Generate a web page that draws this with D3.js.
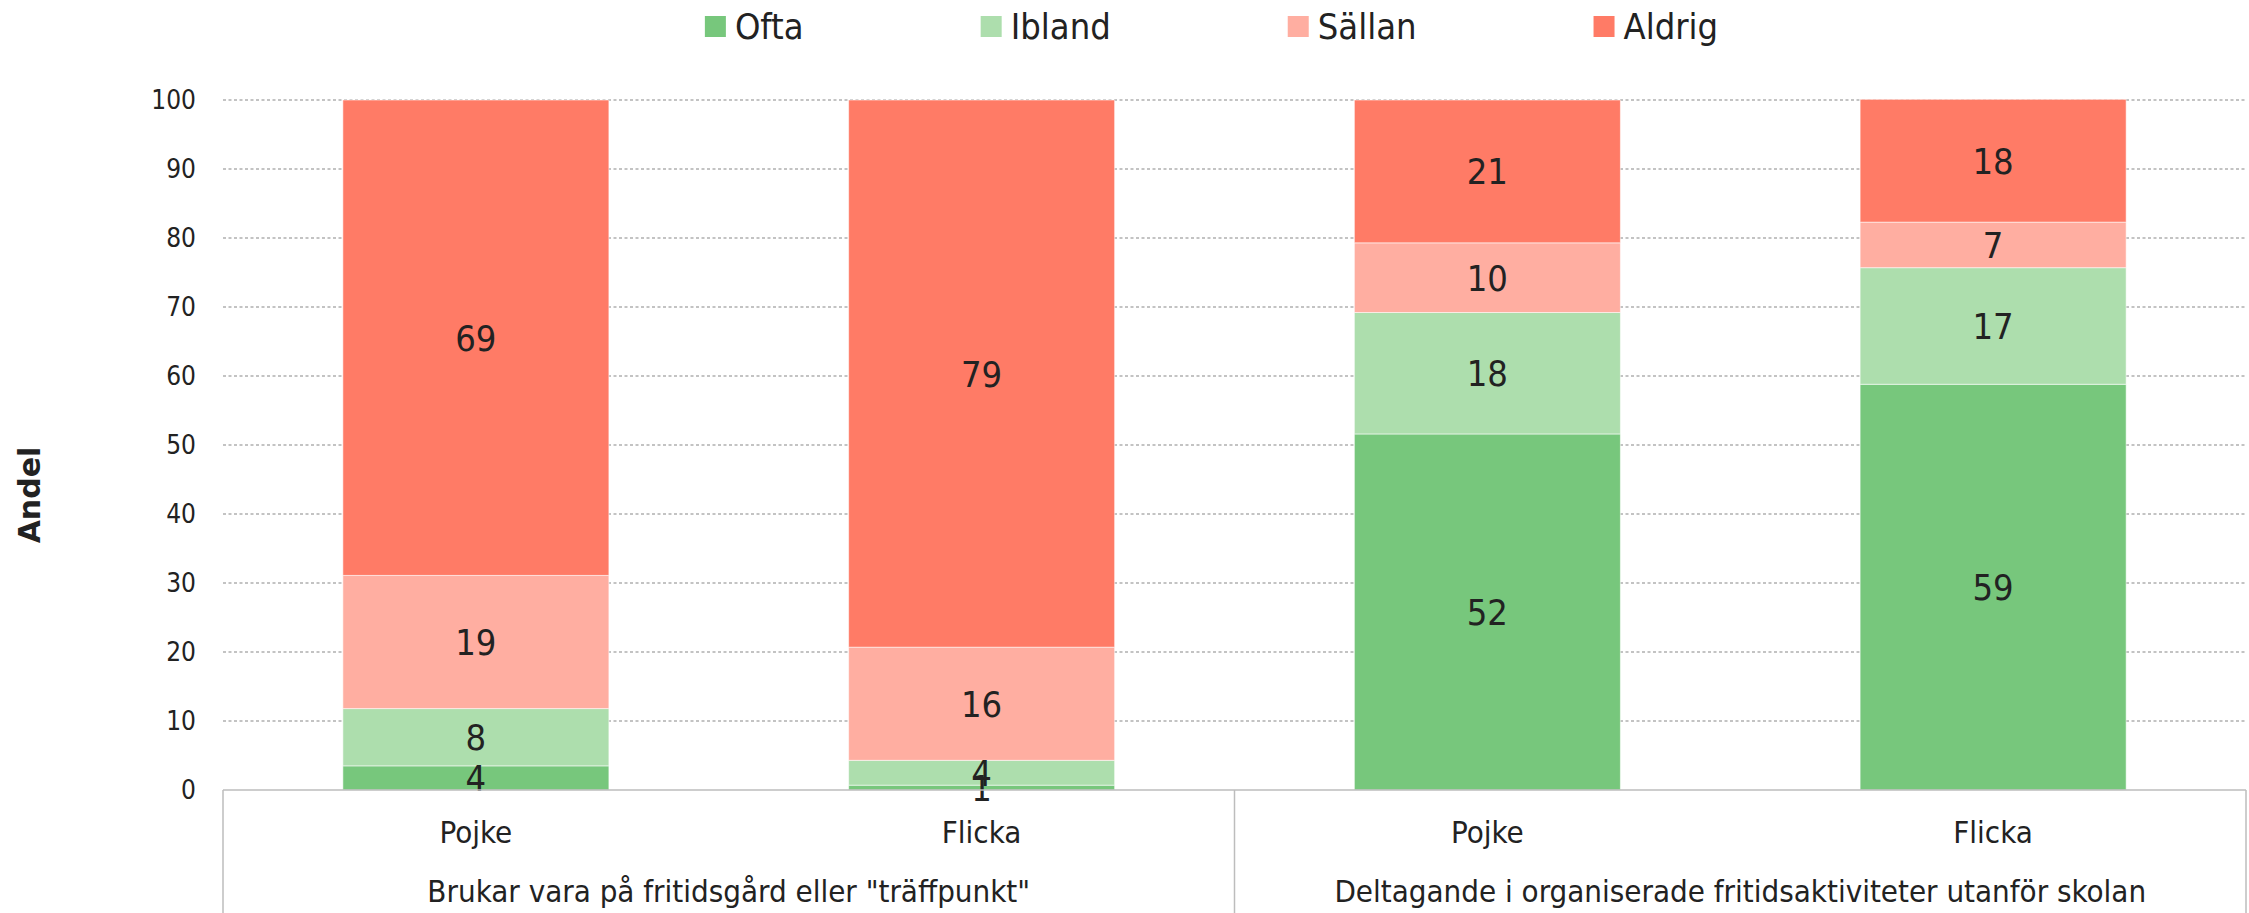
<!DOCTYPE html>
<html>
<head>
<meta charset="utf-8">
<script src="https://cdn.jsdelivr.net/npm/d3@7"></script>
<style>
  html, body { margin: 0; padding: 0; background: #fff; }
  svg text { font-family: "DejaVu Sans Condensed", "DejaVu Sans", sans-serif; font-stretch: condensed; fill: #222; }
</style>
</head>
<body>
<svg id="chart" width="2249" height="913"></svg>
<script>
// ---- data ----
const groups = ['Brukar vara på fritidsgård eller "träffpunkt"', 'Deltagande i organiserade fritidsaktiviteter utanför skolan'];
const subCats = ['Pojke', 'Flicka'];
const series = ['Ofta', 'Ibland', 'Sällan', 'Aldrig'];
const ofta   = [3.5, 0.7, 51.6, 58.8];
const ibland = [8.3, 3.6, 17.6, 16.9];
const sallan = [19.3, 16.4, 10.1, 6.6];
const aldrig = [68.9, 79.3, 20.7, 17.8];
const yTicks = [0, 10, 20, 30, 40, 50, 60, 70, 80, 90, 100];
const yTitle = 'Andel';
const colors = ['#77C77C', '#ADDEAD', '#FFAEA1', '#FF7B66'];

// ---- build table ----
const rows = [];
groups.forEach((g, gi) => subCats.forEach((s, si) => {
  const i = gi * subCats.length + si;
  rows.push({ key: i, group: g, sub: s, Ofta: ofta[i], Ibland: ibland[i], 'Sällan': sallan[i], Aldrig: aldrig[i] });
}));

const svg = d3.select('#chart');
const left = 223, right = 2246, y0px = 790, y100px = 100, bottom = 913;

const x = d3.scaleBand().domain(rows.map(d => d.key)).range([left, right])
  .paddingInner(0.474).paddingOuter(0.237);
const y = d3.scaleLinear().domain([0, 100]).range([y0px, y100px]);
const color = d3.scaleOrdinal().domain(series).range(colors);

// gridlines
svg.append('g').selectAll('line').data(yTicks.filter(t => t > 0)).join('line')
  .attr('x1', left).attr('x2', right)
  .attr('y1', d => y(d)).attr('y2', d => y(d))
  .attr('stroke', '#b0b0b0').attr('stroke-width', 1.5).attr('stroke-dasharray', '3,2.5');

// y tick labels
svg.append('g').selectAll('text').data(yTicks).join('text')
  .attr('x', 196).attr('y', d => y(d)).attr('dy', '0.36em')
  .attr('text-anchor', 'end').style('font-size', '26px').text(d => d);

// y title
svg.append('text')
  .attr('transform', `translate(40,495) rotate(-90)`)
  .attr('text-anchor', 'middle').style('font-size', '30px').style('font-weight', 'bold')
  .style('font-family', '"DejaVu Sans", sans-serif').style('font-stretch', 'normal')
  .text(yTitle);

// stacked bars
const stacked = d3.stack().keys(series)(rows);
const layers = svg.append('g').selectAll('g').data(stacked).join('g')
  .attr('fill', d => color(d.key));
layers.selectAll('rect').data(d => d).join('rect')
  .attr('x', d => x(d.data.key)).attr('width', x.bandwidth())
  .attr('y', d => y(d[1])).attr('height', d => y(d[0]) - y(d[1]))
  .attr('stroke', 'rgba(255,255,255,0.55)').attr('stroke-width', 1);

// data labels
const labels = svg.append('g');
stacked.forEach(layer => {
  labels.selectAll(null).data(layer).join('text')
    .attr('x', d => x(d.data.key) + x.bandwidth() / 2)
    .attr('y', d => (y(d[0]) + y(d[1])) / 2).attr('dy', '0.36em')
    .attr('text-anchor', 'middle').style('font-size', '36px')
    .text(d => Math.round(d.data[layer.key]));
});

// category axis
const ax = svg.append('g').attr('stroke', '#bdbdbd').attr('stroke-width', 1.5);
ax.append('line').attr('x1', left).attr('x2', right).attr('y1', y0px).attr('y2', y0px);
const groupBounds = groups.map((g, gi) => {
  const first = rows[gi * subCats.length].key, last = rows[gi * subCats.length + subCats.length - 1].key;
  return { g, x0: x(first) - x.step() * x.paddingInner() / 2, x1: x(last) + x.bandwidth() + x.step() * x.paddingInner() / 2 };
});
const seps = [left].concat(groupBounds.map(b => Math.min(b.x1, right)));
ax.selectAll('line.sep').data(seps).join('line').attr('class', 'sep')
  .attr('x1', d => d).attr('x2', d => d).attr('y1', y0px).attr('y2', bottom);

// sub labels
svg.append('g').selectAll('text').data(rows).join('text')
  .attr('x', d => x(d.key) + x.bandwidth() / 2).attr('y', 843)
  .attr('text-anchor', 'middle').style('font-size', '31px').text(d => d.sub);

// group labels
svg.append('g').selectAll('text').data(groupBounds).join('text')
  .attr('x', d => (d.x0 + d.x1) / 2).attr('y', 902)
  .attr('text-anchor', 'middle').style('font-size', '31px').text(d => d.g);

// legend
const leg = svg.append('g');
const items = leg.selectAll('g').data(series).join('g');
items.append('rect').attr('width', 21).attr('height', 21).attr('y', 16).attr('fill', d => color(d));
items.append('text').attr('x', 30).attr('y', 39).style('font-size', '36px').text(d => d);
const widths = [];
items.each(function() { widths.push(this.getBBox().width); });
const gap = 177;
const total = d3.sum(widths) + gap * (widths.length - 1);
let start = 1211.5 - total / 2;
items.attr('transform', (d, i) => {
  const t = `translate(${start},0)`;
  start += widths[i] + gap;
  return t;
});
</script>
</body>
</html>
